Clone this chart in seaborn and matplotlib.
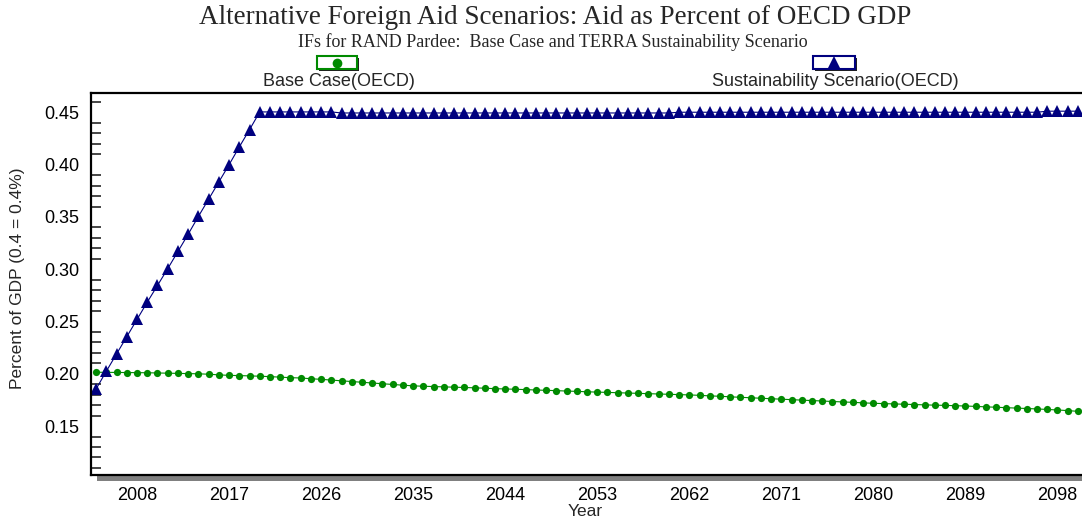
import matplotlib
matplotlib.use("Agg")
import matplotlib.pyplot as plt
import seaborn as sns
import pandas as pd
from matplotlib.patches import Rectangle
from matplotlib.lines import Line2D
from matplotlib.ticker import MultipleLocator

years = list(range(2004, 2101))

base_case = [
    0.2015, 0.2014, 0.2013, 0.2012, 0.2011, 0.2010, 0.2008, 0.2006, 0.2004, 0.2002,
    0.2000, 0.1996, 0.1990, 0.1985, 0.1983, 0.1980, 0.1977, 0.1973, 0.1968, 0.1963,
    0.1960, 0.1953, 0.1947, 0.1940, 0.1933, 0.1926, 0.1919, 0.1912, 0.1905, 0.1898,
    0.1891, 0.1885, 0.1881, 0.1878, 0.1875, 0.1872, 0.1869, 0.1866, 0.1862, 0.1858,
    0.1855, 0.1852, 0.1849, 0.1845, 0.1842, 0.1839, 0.1835, 0.1832, 0.1828, 0.1825,
    0.1822, 0.1819, 0.1816, 0.1813, 0.1810, 0.1807, 0.1804, 0.1801, 0.1798, 0.1794,
    0.1789, 0.1785, 0.1780, 0.1775, 0.1771, 0.1766, 0.1762, 0.1757, 0.1753, 0.1748,
    0.1744, 0.1740, 0.1735, 0.1731, 0.1727, 0.1722, 0.1718, 0.1715, 0.1712, 0.1709,
    0.1706, 0.1703, 0.1700, 0.1698, 0.1695, 0.1692, 0.1688, 0.1684, 0.1680, 0.1676,
    0.1672, 0.1668, 0.1664, 0.1659, 0.1654, 0.1648, 0.1641,
]

sustainability = [
    0.1855, 0.2025, 0.2190, 0.2355, 0.2520, 0.2685, 0.2845, 0.3005, 0.3170, 0.3335,
    0.3505, 0.3670, 0.3835, 0.4000, 0.4170, 0.4335, 0.4505, 0.4505, 0.4505, 0.4505,
    0.4505, 0.4505, 0.4505, 0.4505, 0.4495, 0.4495, 0.4495, 0.4495, 0.4495, 0.4495,
    0.4495, 0.4495, 0.4495, 0.4495, 0.4495, 0.4495, 0.4495, 0.4495, 0.4495, 0.4495,
    0.4495, 0.4495, 0.4495, 0.4495, 0.4495, 0.4495, 0.4495, 0.4495, 0.4495, 0.4495,
    0.4495, 0.4495, 0.4495, 0.4495, 0.4495, 0.4495, 0.4495, 0.4502, 0.4502, 0.4502,
    0.4502, 0.4502, 0.4502, 0.4502, 0.4502, 0.4502, 0.4502, 0.4502, 0.4502, 0.4502,
    0.4502, 0.4502, 0.4502, 0.4502, 0.4502, 0.4502, 0.4502, 0.4502, 0.4502, 0.4502,
    0.4502, 0.4502, 0.4502, 0.4502, 0.4502, 0.4502, 0.4502, 0.4502, 0.4502, 0.4502,
    0.4502, 0.4502, 0.4502, 0.4512, 0.4512, 0.4512, 0.4512,
]

x_ticks = [2008, 2017, 2026, 2035, 2044, 2053, 2062, 2071, 2080, 2089, 2098]
y_ticks = [0.15, 0.20, 0.25, 0.30, 0.35, 0.40, 0.45]

base_label = "Base Case(OECD)"
sust_label = "Sustainability Scenario(OECD)"
green = "#008a00"
navy = "#00007f"

sns.set_style("white")
plt.rcParams['font.family'] = ['Liberation Sans', 'DejaVu Sans']

df = pd.DataFrame({"Year": years, "Base": base_case, "Sust": sustainability})

W, H = 1082, 521
fig = plt.figure(figsize=(W / 100, H / 100), dpi=100)
ax = fig.add_axes([91 / W, 1 - 475 / H, 1 - 91 / W, (475 - 93) / H])

sns.lineplot(data=df, x="Year", y="Base", ax=ax, color=green, lw=0.8,
             marker="o", markersize=5.2, markeredgewidth=0, markerfacecolor=green)
sns.lineplot(data=df, x="Year", y="Sust", ax=ax, color=navy, lw=0.8,
             marker="^", markersize=8, markeredgewidth=0, markerfacecolor=navy)

ax.set_xlim(2003.5, 2100.4)
ax.set_ylim(0.1032, 0.4686)
ax.set_xticks(x_ticks)
ax.set_yticks(y_ticks)
ax.set_yticklabels([f"{v:.2f}" for v in y_ticks])
ax.yaxis.set_minor_locator(MultipleLocator(0.01))
ax.tick_params(axis="both", which="major", direction="inout", width=1.2, color="black",
               labelsize=13, labelcolor="black")
ax.tick_params(axis="y", which="major", length=15, pad=1)
ax.tick_params(axis="x", which="major", length=13, pad=2)
ax.tick_params(axis="y", which="minor", direction="in", length=7.5, width=1.2, left=True)
ax.set_xlabel("")
ax.set_ylabel("")
ax.grid(False)

for side in ["left", "top", "bottom"]:
    ax.spines[side].set_visible(True)
    ax.spines[side].set_color("black")
    ax.spines[side].set_linewidth(1.6)
ax.spines["right"].set_visible(False)

# grey shadow bar under the x axis
fig.add_artist(Rectangle((97 / W, 1 - 481 / H), 1 - 97 / W, 5 / H, transform=fig.transFigure,
                         facecolor="#808080", edgecolor="none", zorder=0))

fig.text(555 / W, 1 - 17 / H, "Alternative Foreign Aid Scenarios: Aid as Percent of OECD GDP",
         ha="center", va="center", fontsize=19.5, family=["Liberation Serif"])
fig.text(553 / W, 1 - 42 / H, "IFs for RAND Pardee:  Base Case and TERRA Sustainability Scenario",
         ha="center", va="center", fontsize=13, family=["Liberation Serif"])

fig.text(18 / W, 1 - 278 / H, "Percent of GDP (0.4 = 0.4%)", rotation=90,
         ha="center", va="center", fontsize=12.5)
fig.text(585 / W, 1 - 511 / H, "Year", ha="center", va="center", fontsize=12.5)

# legend boxes
def legend_box(x0, x1, color, marker, msize, label, label_x):
    y0, y1 = 56, 69
    fig.add_artist(Rectangle(((x0 + 2) / W, 1 - (y1 + 2) / H), (x1 - x0) / W, (y1 - y0) / H,
                             transform=fig.transFigure, facecolor="#202020", edgecolor="none"))
    fig.add_artist(Rectangle((x0 / W, 1 - y1 / H), (x1 - x0) / W, (y1 - y0) / H,
                             transform=fig.transFigure, facecolor="white", edgecolor=color, lw=1.5))
    fig.add_artist(Line2D([(x0 + x1) / 2 / W], [1 - (y0 + y1) / 2 / H], transform=fig.transFigure,
                          marker=marker, markersize=msize, color=color, markeredgewidth=0))
    fig.text(label_x / W, 1 - 82 / H, label, ha="center", va="center", fontsize=13)

legend_box(317, 357, green, "o", 7, base_label, 339)
legend_box(813, 855, navy, "^", 10, sust_label, 835)

fig.savefig("out.png", dpi=100)
